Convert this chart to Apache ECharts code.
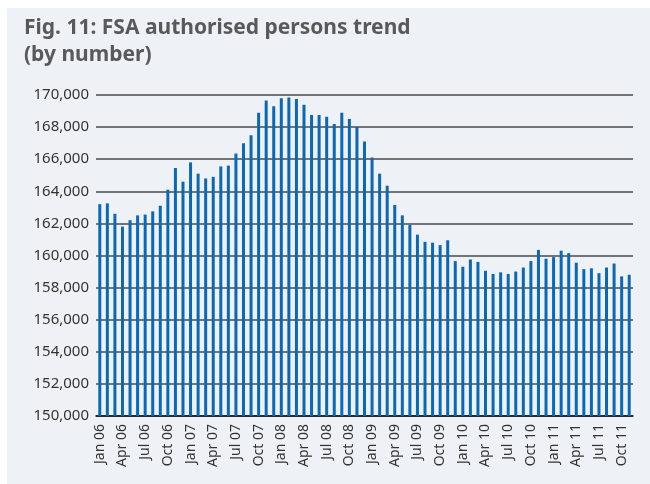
<!DOCTYPE html>
<html>
<head>
<meta charset="utf-8">
<script src="https://cdn.jsdelivr.net/npm/echarts@6/dist/echarts.min.js"></script>
<style>
    html, body { margin: 0; padding: 0; background: #ffffff; }
    #chart { position: absolute; left: 7px; top: 8px; width: 643px; height: 476px; }
</style>
</head>
<body>
<div id="chart"></div>
<script>
// 月份标签 Jan 06 .. Nov 11
var MONTHS = ["Jan", "Feb", "Mar", "Apr", "May", "Jun", "Jul", "Aug", "Sep", "Oct", "Nov", "Dec"];
var YEARS  = ["06", "07", "08", "09", "10", "11"];

// 每月授权人数
var persons2006 = [163200, 163250, 162600, 161800, 162200, 162500, 162550, 162750, 163100, 164100, 165450, 164600];
var persons2007 = [165800, 165100, 164800, 164900, 165550, 165600, 166350, 167000, 167500, 168900, 169650, 169300];
var persons2008 = [169800, 169850, 169750, 169400, 168750, 168750, 168650, 168200, 168900, 168500, 168000, 167100];
var persons2009 = [166100, 165100, 164350, 163150, 162500, 161900, 161300, 160850, 160800, 160650, 160950, 159650];
var persons2010 = [159300, 159750, 159600, 159050, 158850, 158950, 158850, 159000, 159250, 159650, 160350, 159800];
var persons2011 = [159900, 160300, 160150, 159550, 159150, 159200, 158900, 159250, 159500, 158700, 158800];

var values = [].concat(persons2006, persons2007, persons2008, persons2009, persons2010, persons2011);
var labels = [];
YEARS.forEach(function(y) {
    MONTHS.forEach(function(m) { labels.push(m + " " + y); });
});
labels = labels.slice(0, values.length);

var FONT = "'Noto Sans', 'Open Sans', sans-serif";

var chartObj = echarts.init(document.getElementById('chart'));
var option = {
    backgroundColor: '#eef2f6',
    animation: false,
    title: {
        text: 'Fig. 11: FSA authorised persons trend\n(by number)',
        left: 12,
        top: 2,
        textStyle: { fontFamily: FONT, fontSize: 21, fontWeight: 'bold', color: '#58595b', lineHeight: 27 }
    },
    grid: { left: 89, right: 17, top: 87, bottom: 68 },
    xAxis: {
        type: 'category',
        data: labels,
        axisLine: { lineStyle: { color: '#111', width: 1.5 } },
        axisTick: { show: false },
        axisLabel: {
            interval: 2,
            rotate: 90,
            margin: 8,
            fontFamily: FONT,
            fontSize: 14,
            color: '#333'
        }
    },
    yAxis: {
        type: 'value',
        min: 150000,
        max: 170000,
        interval: 2000,
        axisLine: { show: false },
        axisTick: { show: false },
        splitLine: { lineStyle: { color: '#4a4a4a', width: 1.5 } },
        axisLabel: {
            margin: 7,
            fontFamily: FONT,
            fontSize: 15,
            color: '#333',
            formatter: function(v) { return v.toString().replace(/\B(?=(\d{3})+(?!\d))/g, ','); }
        }
    },
    series: [
        {
            type: 'bar',
            data: values,
            barWidth: 3,
            itemStyle: { color: '#0a68b4' }
        }
    ]
};
chartObj.setOption(option);
</script>
</body>
</html>
